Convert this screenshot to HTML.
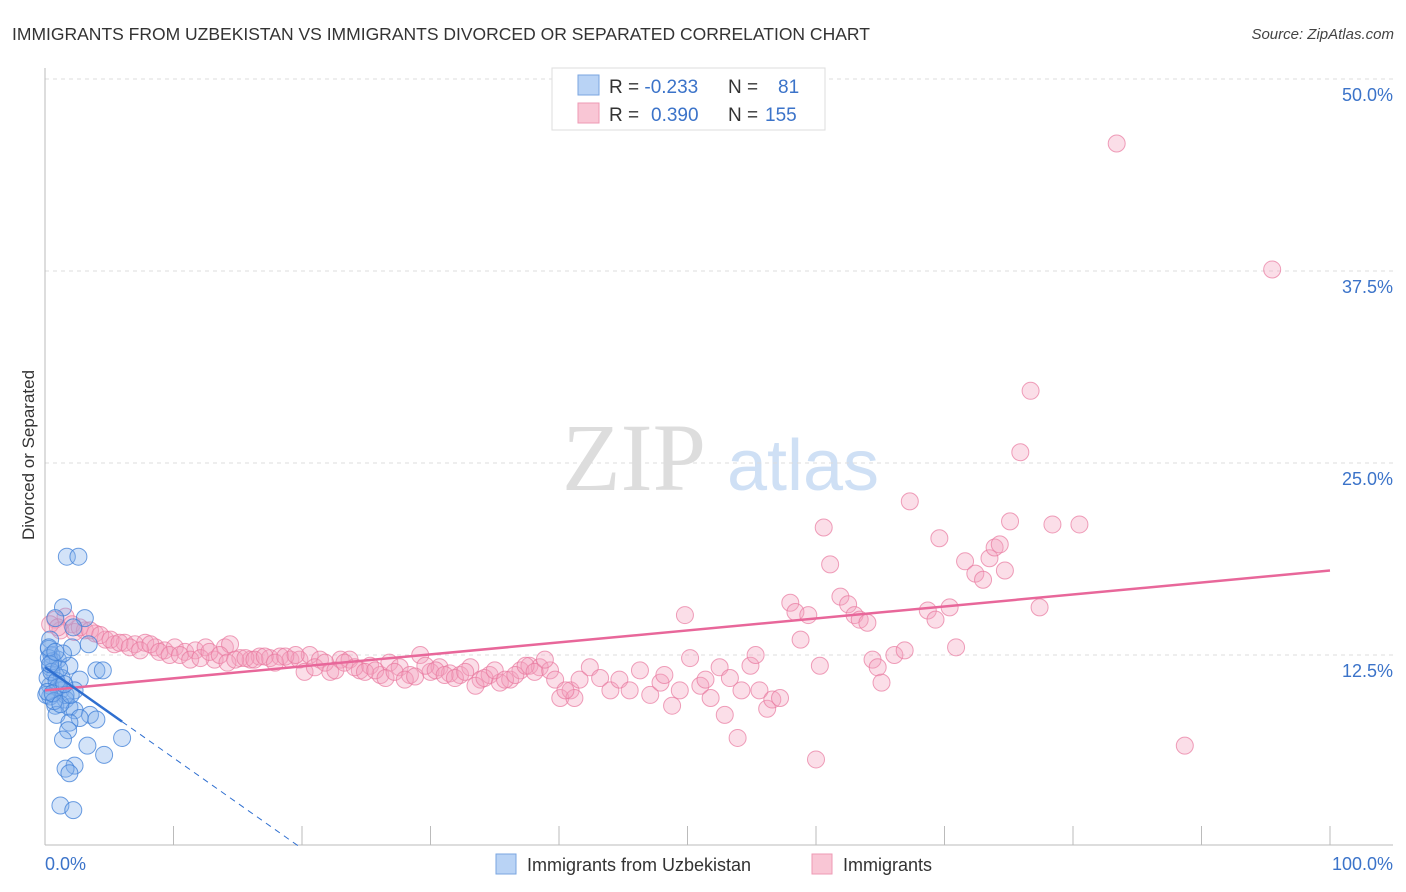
<!DOCTYPE html>
<html><head><meta charset="utf-8"><style>
body{margin:0;background:#fff;font-family:"Liberation Sans",sans-serif}
svg{display:block}
</style></head><body>
<svg id="c" width="1406" height="892" xmlns="http://www.w3.org/2000/svg">
<text x="12" y="40" font-size="17.5" fill="#333">IMMIGRANTS FROM UZBEKISTAN VS IMMIGRANTS DIVORCED OR SEPARATED CORRELATION CHART</text>
<text x="1394" y="39" font-size="15" fill="#444" font-style="italic" text-anchor="end">Source: ZipAtlas.com</text>
<text x="634" y="490" font-size="96" fill="#ddd" font-family="Liberation Serif,serif" text-anchor="middle">ZIP</text>
<text x="803" y="490" font-size="72" fill="#cfe0f5" text-anchor="middle">atlas</text>
<text transform="translate(34,455) rotate(-90)" font-size="17" fill="#333" text-anchor="middle">Divorced or Separated</text>
<g id="grid"></g><g id="pts"></g><g id="lines"></g>
<g>
<rect x="552" y="68" width="273" height="62" fill="#fff" stroke="#ddd"/>
<rect x="578" y="75" width="21" height="20" fill="#b9d3f5" stroke="#7aa6e0"/>
<rect x="578" y="103" width="21" height="20" fill="#f9c6d5" stroke="#ee9ab4"/>
<text x="609" y="93" font-size="19" fill="#333">R = <tspan fill="#3b73c9">-0.233</tspan><tspan x="728">N =</tspan><tspan x="778" fill="#3b73c9">81</tspan></text>
<text x="609" y="121" font-size="19" fill="#333">R = <tspan x="651" fill="#3b73c9">0.390</tspan><tspan x="728">N =</tspan><tspan x="765" fill="#3b73c9">155</tspan></text>
</g>
<g>
<rect x="496" y="854" width="20" height="20" fill="#b9d3f5" stroke="#7aa6e0"/>
<text x="527" y="871" font-size="18" fill="#333">Immigrants from Uzbekistan</text>
<rect x="812" y="854" width="20" height="20" fill="#f9c6d5" stroke="#ee9ab4"/>
<text x="843" y="871" font-size="18" fill="#333">Immigrants</text>
</g>
</svg>
<script>
const yTicks=[12.5,25,37.5,50];
const yTickLabels=["12.5%","25.0%","37.5%","50.0%"];
const xTicks=[0,10,20,30,40,50,60,70,80,90,100];
const blue=[[1.7,18.9],[2.6,18.9],[1.4,15.6],[3.1,14.9],[0.8,14.9],[2.2,14.3],[3.4,13.2],[2.1,13.0],[0.4,13.5],[0.5,12.5],[1.0,12.2],[1.9,11.8],[4.0,11.5],[4.5,11.5],[0.4,11.7],[0.8,11.2],[1.3,11.0],[2.7,10.9],[0.4,10.5],[1.2,10.2],[2.3,10.2],[0.4,9.8],[1.6,9.6],[0.8,9.2],[1.9,9.1],[2.3,8.9],[3.5,8.6],[0.9,8.6],[2.7,8.4],[1.9,8.1],[4.0,8.3],[1.8,7.6],[1.4,7.0],[3.3,6.6],[6.0,7.1],[4.6,6.0],[2.3,5.3],[1.6,5.1],[1.9,4.8],[1.2,2.7],[2.2,2.4],[0.3,12.9],[0.6,12.1],[0.2,11.0],[1.0,10.4],[0.1,9.9],[1.6,9.9],[0.3,12.3],[0.5,11.4],[0.9,10.8],[0.2,10.1],[0.7,9.5],[1.1,11.6],[0.3,13.0],[1.4,12.6],[0.6,10.0],[1.2,9.3],[2.0,9.9],[0.4,11.9],[0.8,12.7],[1.5,10.6]];
const pink=[[0.8,14.8],[1.6,15.0],[2.1,14.5],[1.2,14.1],[2.3,14.0],[3.1,14.1],[3.9,13.9],[4.7,13.5],[5.4,13.2],[6.2,13.3],[7.0,13.2],[7.8,13.3],[8.6,13.0],[9.3,12.8],[10.1,13.0],[10.9,12.7],[11.7,12.8],[12.5,13.0],[13.2,12.2],[14.0,13.0],[14.4,13.2],[15.2,12.3],[16.0,12.2],[16.7,12.4],[17.5,12.3],[18.3,12.4],[19.1,12.2],[19.8,12.2],[20.6,12.5],[21.4,12.2],[22.2,11.4],[23.0,12.2],[23.7,12.2],[24.5,11.5],[25.3,11.8],[26.1,11.2],[26.8,12.0],[27.6,11.7],[28.4,11.2],[29.2,12.5],[30.0,11.4],[30.7,11.7],[31.5,11.3],[32.3,11.2],[33.1,11.7],[33.9,10.9],[34.6,11.2],[35.4,10.7],[36.2,10.9],[37.0,11.5],[37.7,11.8],[38.5,11.7],[39.3,11.5],[40.1,9.7],[40.9,10.2],[41.2,9.7],[41.6,10.9],[42.4,11.7],[43.2,11.0],[44.0,10.2],[44.7,10.9],[45.5,10.2],[46.3,11.5],[47.1,9.9],[47.9,10.7],[48.2,11.2],[48.8,9.2],[49.4,10.2],[49.8,15.1],[50.2,12.3],[51.0,10.5],[51.4,10.9],[51.8,9.7],[52.5,11.7],[52.9,8.6],[53.3,11.0],[53.9,7.1],[54.2,10.2],[54.9,11.8],[55.3,12.5],[55.6,10.2],[56.2,9.0],[56.6,9.6],[57.2,9.7],[58.0,15.9],[58.4,15.3],[58.8,13.5],[59.4,15.1],[60.0,5.7],[60.3,11.8],[60.6,20.8],[61.1,18.4],[61.9,16.3],[62.5,15.8],[63.0,15.1],[63.4,14.8],[64.0,14.6],[64.4,12.2],[64.8,11.7],[65.1,10.7],[66.1,12.5],[66.9,12.8],[67.3,22.5],[68.7,15.4],[69.3,14.8],[69.6,20.1],[70.4,15.6],[70.9,13.0],[71.6,18.6],[72.4,17.8],[73.0,17.4],[73.5,18.8],[73.9,19.5],[74.3,19.7],[74.7,18.0],[75.1,21.2],[75.9,25.7],[76.7,29.7],[77.4,15.6],[78.4,21.0],[80.5,21.0],[83.4,45.8],[88.7,6.6],[95.5,37.6],
[0.4,14.5],[1.0,14.3],[2.7,14.3],[3.5,14.1],[4.3,13.8],[5.1,13.5],[5.8,13.3],[6.6,13.0],[7.4,12.8],[8.2,13.2],[8.9,12.7],[9.7,12.5],[10.5,12.5],[11.3,12.2],[12.1,12.3],[12.8,12.7],[13.6,12.5],[14.2,12.0],[14.8,12.2],[15.6,12.3],[16.3,12.2],[17.1,12.4],[17.9,12.0],[18.7,12.4],[19.5,12.5],[20.2,11.4],[21.0,11.7],[21.8,12.0],[22.6,11.5],[23.3,12.0],[24.1,11.7],[24.9,11.4],[25.7,11.5],[26.5,11.0],[27.2,11.4],[28.0,10.9],[28.8,11.1],[29.6,11.8],[30.4,11.5],[31.1,11.2],[31.9,11.0],[32.7,11.4],[33.5,10.5],[34.2,11.0],[35.0,11.5],[35.8,10.9],[36.6,11.2],[37.4,11.8],[38.1,11.4],[38.9,12.2],[39.7,10.9],[40.5,10.2]];
const X0=45,X1=1330,Y0=847,YS=15.36;
const xs=v=>X0+v*(X1-X0)/100, ys=v=>Y0-v*YS;
const NS="http://www.w3.org/2000/svg";
function mk(t,a,p){const e=document.createElementNS(NS,t);for(const k in a)e.setAttribute(k,a[k]);p.appendChild(e);return e;}
const grid=document.getElementById('grid');
yTicks.forEach((t,i)=>{
 const l=mk('line',{x1:45,x2:1393,y1:ys(t),y2:ys(t),stroke:'#ddd','stroke-dasharray':'4,4'},grid);
 
 
 const tx=mk('text',{x:1393,y:ys(t)+22,'font-size':18,fill:'#3b73c9','text-anchor':'end'},grid);
 tx.textContent=yTickLabels[i];
 
 
});
mk('line',{x1:45,x2:45,y1:68,y2:845,stroke:'#bbb'},grid);
mk('line',{x1:45,x2:1393,y1:845,y2:845,stroke:'#bbb'},grid);
xTicks.forEach(t=>{const l=mk('line',{x1:xs(t),x2:xs(t),y1:826,y2:845,stroke:'#bbb'},grid);
 
 });
const xl0=mk('text',{x:45,y:870,'font-size':18,fill:'#3b73c9'},grid);xl0.textContent='0.0%';


const xl1=mk('text',{x:1393,y:870,'font-size':18,fill:'#3b73c9','text-anchor':'end'},grid);xl1.textContent='100.0%';


const pts=document.getElementById('pts');
pink.forEach(d=>{const c=mk('circle',{cx:xs(d[0]),cy:ys(d[1]),r:8.5,fill:'rgba(244,160,188,0.35)',stroke:'rgba(232,120,158,0.7)','stroke-width':1},pts);
 
 });
blue.forEach(d=>{const c=mk('circle',{cx:xs(d[0]),cy:ys(d[1]),r:8.5,fill:'rgba(130,175,235,0.35)',stroke:'rgba(60,125,215,0.75)','stroke-width':1},pts);
 
 });
const lines=document.getElementById('lines');
const pinkTrend=[10.2,18.0], blueTrend=[11.7,-0.59];
const pl=mk('line',{x1:xs(0),y1:ys(pinkTrend[0]),x2:xs(100),y2:ys(pinkTrend[1]),stroke:'#e8679a','stroke-width':2.5},lines);


const bl=mk('line',{x1:xs(0),y1:ys(blueTrend[0]),x2:xs(6),y2:ys(blueTrend[0]+6*blueTrend[1]),stroke:'#2f6fd0','stroke-width':2.5},lines);


const bd=mk('line',{x1:xs(6),y1:ys(blueTrend[0]+6*blueTrend[1]),x2:xs(19.8),y2:ys(blueTrend[0]+19.8*blueTrend[1]),stroke:'#2f6fd0','stroke-width':1,'stroke-dasharray':'6,5'},lines);


</script>
</body></html>
